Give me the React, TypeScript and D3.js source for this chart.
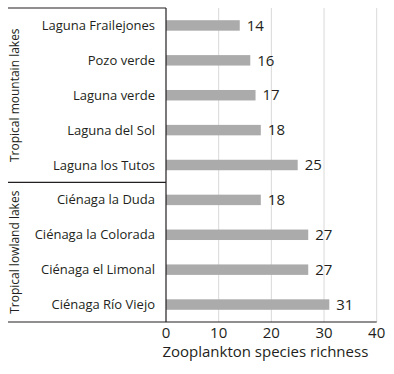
import { useEffect, useRef } from "react";
import * as d3 from "d3";

const lakes = [
  "Laguna Frailejones",
  "Pozo verde",
  "Laguna verde",
  "Laguna del Sol",
  "Laguna los Tutos",
  "Ciénaga la Duda",
  "Ciénaga la Colorada",
  "Ciénaga el Limonal",
  "Ciénaga Río Viejo",
];
const richness = [14, 16, 17, 18, 25, 18, 27, 27, 31];
const groups = [
  { name: "Tropical mountain lakes", from: "Laguna Frailejones", to: "Laguna los Tutos" },
  { name: "Tropical lowland lakes", from: "Ciénaga la Duda", to: "Ciénaga Río Viejo" },
];
const xTicks = [0, 10, 20, 30, 40];

const FONT = "'Open Sans', sans-serif";
const INK = "#231f20";

export default function App() {
  const ref = useRef<SVGSVGElement>(null);

  useEffect(() => {
    const svg = d3.select(ref.current);
    svg.selectAll("*").remove();

    const left = 166;
    const right = 376.7;
    const top = 8;
    const bottom = 322;

    const x = d3.scaleLinear().domain([0, 40]).range([left, right]);
    const y = d3.scaleBand().domain(lakes).range([top, bottom]).paddingInner(0.7).paddingOuter(0.35);
    const band = d3.scaleBand().domain(lakes).range([top, bottom]);

    // gridlines
    svg
      .append("g")
      .selectAll("line")
      .data(xTicks.slice(1))
      .enter()
      .append("line")
      .attr("x1", (d) => x(d))
      .attr("x2", (d) => x(d))
      .attr("y1", top)
      .attr("y2", bottom)
      .attr("stroke", "#d9d9d9")
      .attr("stroke-width", 1);

    // bars
    const data = lakes.map((name, i) => ({ name, value: richness[i] }));
    svg
      .append("g")
      .selectAll("rect")
      .data(data)
      .enter()
      .append("rect")
      .attr("x", x(0))
      .attr("y", (d) => y(d.name)!)
      .attr("width", (d) => x(d.value) - x(0))
      .attr("height", y.bandwidth())
      .attr("fill", "#ababab");

    // value labels
    svg
      .append("g")
      .selectAll("text")
      .data(data)
      .enter()
      .append("text")
      .attr("x", (d) => x(d.value) + 7)
      .attr("y", (d) => y(d.name)! + y.bandwidth() / 2)
      .attr("dy", "0.35em")
      .attr("font-family", FONT)
      .attr("font-size", 15)
      .attr("fill", INK)
      .text((d) => d.value);

    // category labels
    svg
      .append("g")
      .selectAll("text")
      .data(lakes)
      .enter()
      .append("text")
      .attr("x", 155)
      .attr("y", (d) => y(d)! + y.bandwidth() / 2)
      .attr("dy", "0.35em")
      .attr("text-anchor", "end")
      .attr("font-family", FONT)
      .attr("font-size", 13)
      .attr("fill", INK)
      .text((d) => d);

    // group labels
    groups.forEach((g) => {
      const y0 = band(g.from)!;
      const y1 = band(g.to)! + band.bandwidth();
      svg
        .append("text")
        .attr("transform", `translate(15, ${(y0 + y1) / 2}) rotate(-90)`)
        .attr("dy", "0.35em")
        .attr("text-anchor", "middle")
        .attr("font-family", FONT)
        .attr("font-size", 12)
        .attr("fill", INK)
        .text(g.name);
    });

    // frame lines
    const boundaries = [top, band(groups[1].from)!, bottom];
    svg
      .append("g")
      .selectAll("line")
      .data(boundaries)
      .enter()
      .append("line")
      .attr("x1", 8)
      .attr("x2", left)
      .attr("y1", (d) => d)
      .attr("y2", (d) => d)
      .attr("stroke", INK)
      .attr("stroke-width", 1.2);
    svg
      .append("line")
      .attr("x1", left)
      .attr("x2", left)
      .attr("y1", top)
      .attr("y2", bottom)
      .attr("stroke", INK)
      .attr("stroke-width", 1.2);

    // x axis
    const axis = svg.append("g").attr("transform", `translate(0, ${bottom})`);
    axis
      .append("line")
      .attr("x1", left)
      .attr("x2", right)
      .attr("stroke", INK)
      .attr("stroke-width", 1.2);
    axis
      .selectAll("text")
      .data(xTicks)
      .enter()
      .append("text")
      .attr("x", (d) => x(d))
      .attr("y", 11)
      .attr("dy", "0.35em")
      .attr("text-anchor", "middle")
      .attr("font-family", FONT)
      .attr("font-size", 15)
      .attr("fill", INK)
      .text((d) => d);

    svg
      .append("text")
      .attr("x", (left + right) / 2 - 6)
      .attr("y", 352)
      .attr("dy", "0.35em")
      .attr("text-anchor", "middle")
      .attr("font-family", FONT)
      .attr("font-size", 15)
      .attr("fill", INK)
      .text("Zooplankton species richness");
  }, []);

  return (
    <svg
      ref={ref}
      width={394}
      height={374}
      style={{ position: "absolute", left: 0, top: 0, background: "#fff" }}
    ></svg>
  );
}
